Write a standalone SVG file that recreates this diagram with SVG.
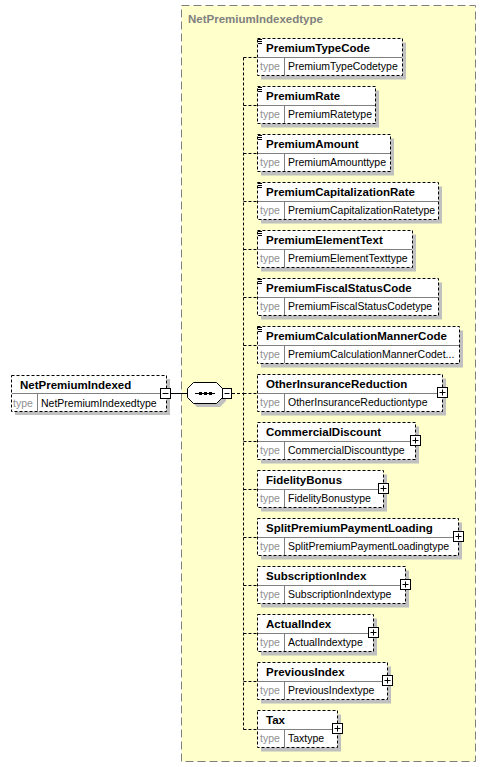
<svg xmlns="http://www.w3.org/2000/svg" width="487" height="767" viewBox="0 0 487 767">
<style>
.bg{fill:#ffffff}
.cmplx{fill:#ffffcc;stroke:#808080;stroke-width:1;stroke-dasharray:8,4}
.ctitle{font-family:"Liberation Sans",Arial,sans-serif;font-size:11.5px;font-weight:bold;fill:#808080}
.shadow{fill:#c0c0c0}
.box{fill:#ffffff;stroke:#000000;stroke-width:1;stroke-dasharray:3,2}
.sep{stroke:#808080;stroke-width:1}
.name{font-family:"Liberation Sans",Arial,sans-serif;font-size:11.5px;font-weight:bold;fill:#000000}
.tlab{font-family:"Liberation Sans",Arial,sans-serif;font-size:10.5px;fill:#909090}
.tval{font-family:"Liberation Sans",Arial,sans-serif;font-size:10.5px;fill:#000000}
.conn{fill:none;stroke:#000000;stroke-width:1;stroke-dasharray:3,2}
.solid{fill:none;stroke:#000000;stroke-width:1}
.btn{fill:#ffffff;stroke:#000000;stroke-width:1}
.icon{stroke:#000000;stroke-width:1}
</style>
<rect class="bg" x="0" y="0" width="487" height="767"/>
<g id="complexType">
<rect class="cmplx" x="181.5" y="5.5" width="294" height="756"/>
<text class="ctitle" x="188" y="23">NetPremiumIndexedtype</text>
</g>
<g id="connectors">
<line class="solid" x1="170" y1="393.5" x2="188" y2="393.5"/>
<line class="conn" x1="232" y1="393.5" x2="243.5" y2="393.5"/>
<line class="conn" x1="243.5" y1="57.5" x2="243.5" y2="729.5"/>
<line class="conn" x1="243.5" y1="57.5" x2="257" y2="57.5"/>
<line class="conn" x1="243.5" y1="105.5" x2="257" y2="105.5"/>
<line class="conn" x1="243.5" y1="153.5" x2="257" y2="153.5"/>
<line class="conn" x1="243.5" y1="201.5" x2="257" y2="201.5"/>
<line class="conn" x1="243.5" y1="249.5" x2="257" y2="249.5"/>
<line class="conn" x1="243.5" y1="297.5" x2="257" y2="297.5"/>
<line class="conn" x1="243.5" y1="345.5" x2="257" y2="345.5"/>
<line class="conn" x1="243.5" y1="393.5" x2="257" y2="393.5"/>
<line class="conn" x1="243.5" y1="441.5" x2="257" y2="441.5"/>
<line class="conn" x1="243.5" y1="489.5" x2="257" y2="489.5"/>
<line class="conn" x1="243.5" y1="537.5" x2="257" y2="537.5"/>
<line class="conn" x1="243.5" y1="585.5" x2="257" y2="585.5"/>
<line class="conn" x1="243.5" y1="633.5" x2="257" y2="633.5"/>
<line class="conn" x1="243.5" y1="681.5" x2="257" y2="681.5"/>
<line class="conn" x1="243.5" y1="729.5" x2="257" y2="729.5"/>
</g>
<g id="root">
<rect class="shadow" x="15" y="379" width="155" height="36"/>
<rect class="box" x="11.5" y="375.5" width="155" height="36"/>
<line class="sep" x1="12" y1="393.5" x2="166" y2="393.5"/>
<line class="sep" x1="37.5" y1="394" x2="37.5" y2="411"/>
<text class="name" x="20" y="389">NetPremiumIndexed</text>
<text class="tlab" x="13" y="406.5">type</text>
<text class="tval" x="41" y="406.5">NetPremiumIndexedtype</text>
<rect class="btn" x="160.5" y="388.5" width="10" height="10"/>
<line class="icon" x1="162.5" y1="393.5" x2="168.5" y2="393.5"/>
</g>
<g id="sequence">
<polygon class="shadow" points="197,386 220,386 226,392 226,401 220,407 197,407 191,401 191,392"/>
<polygon class="btn" points="193.5,382.5 216.5,382.5 222.5,388.5 222.5,397.5 216.5,403.5 193.5,403.5 187.5,397.5 187.5,388.5"/>
<line class="solid" x1="195" y1="393.5" x2="215" y2="393.5"/>
<rect x="199" y="392" width="3" height="3" fill="#000"/>
<rect x="204" y="392" width="3" height="3" fill="#000"/>
<rect x="209" y="392" width="3" height="3" fill="#000"/>
<rect class="btn" x="222.5" y="388.5" width="9" height="10"/>
<line class="icon" x1="224.5" y1="393.5" x2="229.5" y2="393.5"/>
</g>
<g id="PremiumTypeCode" transform="translate(0,0)">
<rect class="shadow" x="261" y="42.5" width="145" height="37"/>
<rect class="box" x="257.5" y="38.5" width="145" height="37"/>
<line class="sep" x1="258" y1="57.5" x2="402" y2="57.5"/>
<line class="sep" x1="284.5" y1="58" x2="284.5" y2="75"/>
<path class="icon" d="M258,39.5h4M258,41.5h4M258,43.5h4"/>
<text class="name" x="266" y="52">PremiumTypeCode</text>
<text class="tlab" x="260" y="70">type</text>
<text class="tval" x="288" y="70">PremiumTypeCodetype</text>
</g>
<g id="PremiumRate" transform="translate(0,48)">
<rect class="shadow" x="261" y="42.5" width="118" height="37"/>
<rect class="box" x="257.5" y="38.5" width="118" height="37"/>
<line class="sep" x1="258" y1="57.5" x2="375" y2="57.5"/>
<line class="sep" x1="284.5" y1="58" x2="284.5" y2="75"/>
<path class="icon" d="M258,39.5h4M258,41.5h4M258,43.5h4"/>
<text class="name" x="266" y="52">PremiumRate</text>
<text class="tlab" x="260" y="70">type</text>
<text class="tval" x="288" y="70">PremiumRatetype</text>
</g>
<g id="PremiumAmount" transform="translate(0,96)">
<rect class="shadow" x="261" y="42.5" width="133" height="37"/>
<rect class="box" x="257.5" y="38.5" width="133" height="37"/>
<line class="sep" x1="258" y1="57.5" x2="390" y2="57.5"/>
<line class="sep" x1="284.5" y1="58" x2="284.5" y2="75"/>
<path class="icon" d="M258,39.5h4M258,41.5h4M258,43.5h4"/>
<text class="name" x="266" y="52">PremiumAmount</text>
<text class="tlab" x="260" y="70">type</text>
<text class="tval" x="288" y="70">PremiumAmounttype</text>
</g>
<g id="PremiumCapitalizationRate" transform="translate(0,144)">
<rect class="shadow" x="261" y="42.5" width="181" height="37"/>
<rect class="box" x="257.5" y="38.5" width="181" height="37"/>
<line class="sep" x1="258" y1="57.5" x2="438" y2="57.5"/>
<line class="sep" x1="284.5" y1="58" x2="284.5" y2="75"/>
<path class="icon" d="M258,39.5h4M258,41.5h4M258,43.5h4"/>
<text class="name" x="266" y="52">PremiumCapitalizationRate</text>
<text class="tlab" x="260" y="70">type</text>
<text class="tval" x="288" y="70">PremiumCapitalizationRatetype</text>
</g>
<g id="PremiumElementText" transform="translate(0,192)">
<rect class="shadow" x="261" y="42.5" width="155" height="37"/>
<rect class="box" x="257.5" y="38.5" width="155" height="37"/>
<line class="sep" x1="258" y1="57.5" x2="412" y2="57.5"/>
<line class="sep" x1="284.5" y1="58" x2="284.5" y2="75"/>
<path class="icon" d="M258,39.5h4M258,41.5h4M258,43.5h4"/>
<text class="name" x="266" y="52">PremiumElementText</text>
<text class="tlab" x="260" y="70">type</text>
<text class="tval" x="288" y="70">PremiumElementTexttype</text>
</g>
<g id="PremiumFiscalStatusCode" transform="translate(0,240)">
<rect class="shadow" x="261" y="42.5" width="181" height="37"/>
<rect class="box" x="257.5" y="38.5" width="181" height="37"/>
<line class="sep" x1="258" y1="57.5" x2="438" y2="57.5"/>
<line class="sep" x1="284.5" y1="58" x2="284.5" y2="75"/>
<path class="icon" d="M258,39.5h4M258,41.5h4M258,43.5h4"/>
<text class="name" x="266" y="52">PremiumFiscalStatusCode</text>
<text class="tlab" x="260" y="70">type</text>
<text class="tval" x="288" y="70">PremiumFiscalStatusCodetype</text>
</g>
<g id="PremiumCalculationMannerCode" transform="translate(0,288)">
<rect class="shadow" x="261" y="42.5" width="202" height="37"/>
<rect class="box" x="257.5" y="38.5" width="202" height="37"/>
<line class="sep" x1="258" y1="57.5" x2="459" y2="57.5"/>
<line class="sep" x1="284.5" y1="58" x2="284.5" y2="75"/>
<path class="icon" d="M258,39.5h4M258,41.5h4M258,43.5h4"/>
<text class="name" x="266" y="52">PremiumCalculationMannerCode</text>
<text class="tlab" x="260" y="70">type</text>
<text class="tval" x="288" y="70">PremiumCalculationMannerCodet...</text>
</g>
<g id="OtherInsuranceReduction" transform="translate(0,336)">
<rect class="shadow" x="261" y="42.5" width="185" height="37"/>
<rect class="box" x="257.5" y="38.5" width="185" height="37"/>
<line class="sep" x1="258" y1="57.5" x2="442" y2="57.5"/>
<line class="sep" x1="284.5" y1="58" x2="284.5" y2="75"/>
<text class="name" x="266" y="52">OtherInsuranceReduction</text>
<text class="tlab" x="260" y="70">type</text>
<text class="tval" x="288" y="70">OtherInsuranceReductiontype</text>
<rect class="btn" x="437.5" y="51.5" width="10" height="10"/>
<path class="icon" d="M439.5,56.5h6M442.5,53.5v6"/>
</g>
<g id="CommercialDiscount" transform="translate(0,384)">
<rect class="shadow" x="261" y="42.5" width="158" height="37"/>
<rect class="box" x="257.5" y="38.5" width="158" height="37"/>
<line class="sep" x1="258" y1="57.5" x2="415" y2="57.5"/>
<line class="sep" x1="284.5" y1="58" x2="284.5" y2="75"/>
<text class="name" x="266" y="52">CommercialDiscount</text>
<text class="tlab" x="260" y="70">type</text>
<text class="tval" x="288" y="70">CommercialDiscounttype</text>
<rect class="btn" x="410.5" y="51.5" width="10" height="10"/>
<path class="icon" d="M412.5,56.5h6M415.5,53.5v6"/>
</g>
<g id="FidelityBonus" transform="translate(0,432)">
<rect class="shadow" x="261" y="42.5" width="126" height="37"/>
<rect class="box" x="257.5" y="38.5" width="126" height="37"/>
<line class="sep" x1="258" y1="57.5" x2="383" y2="57.5"/>
<line class="sep" x1="284.5" y1="58" x2="284.5" y2="75"/>
<text class="name" x="266" y="52">FidelityBonus</text>
<text class="tlab" x="260" y="70">type</text>
<text class="tval" x="288" y="70">FidelityBonustype</text>
<rect class="btn" x="378.5" y="51.5" width="10" height="10"/>
<path class="icon" d="M380.5,56.5h6M383.5,53.5v6"/>
</g>
<g id="SplitPremiumPaymentLoading" transform="translate(0,480)">
<rect class="shadow" x="261" y="42.5" width="201" height="37"/>
<rect class="box" x="257.5" y="38.5" width="201" height="37"/>
<line class="sep" x1="258" y1="57.5" x2="458" y2="57.5"/>
<line class="sep" x1="284.5" y1="58" x2="284.5" y2="75"/>
<text class="name" x="266" y="52">SplitPremiumPaymentLoading</text>
<text class="tlab" x="260" y="70">type</text>
<text class="tval" x="288" y="70">SplitPremiumPaymentLoadingtype</text>
<rect class="btn" x="453.5" y="51.5" width="10" height="10"/>
<path class="icon" d="M455.5,56.5h6M458.5,53.5v6"/>
</g>
<g id="SubscriptionIndex" transform="translate(0,528)">
<rect class="shadow" x="261" y="42.5" width="148" height="37"/>
<rect class="box" x="257.5" y="38.5" width="148" height="37"/>
<line class="sep" x1="258" y1="57.5" x2="405" y2="57.5"/>
<line class="sep" x1="284.5" y1="58" x2="284.5" y2="75"/>
<text class="name" x="266" y="52">SubscriptionIndex</text>
<text class="tlab" x="260" y="70">type</text>
<text class="tval" x="288" y="70">SubscriptionIndextype</text>
<rect class="btn" x="400.5" y="51.5" width="10" height="10"/>
<path class="icon" d="M402.5,56.5h6M405.5,53.5v6"/>
</g>
<g id="ActualIndex" transform="translate(0,576)">
<rect class="shadow" x="261" y="42.5" width="116" height="37"/>
<rect class="box" x="257.5" y="38.5" width="116" height="37"/>
<line class="sep" x1="258" y1="57.5" x2="373" y2="57.5"/>
<line class="sep" x1="284.5" y1="58" x2="284.5" y2="75"/>
<text class="name" x="266" y="52">ActualIndex</text>
<text class="tlab" x="260" y="70">type</text>
<text class="tval" x="288" y="70">ActualIndextype</text>
<rect class="btn" x="368.5" y="51.5" width="10" height="10"/>
<path class="icon" d="M370.5,56.5h6M373.5,53.5v6"/>
</g>
<g id="PreviousIndex" transform="translate(0,624)">
<rect class="shadow" x="261" y="42.5" width="130" height="37"/>
<rect class="box" x="257.5" y="38.5" width="130" height="37"/>
<line class="sep" x1="258" y1="57.5" x2="387" y2="57.5"/>
<line class="sep" x1="284.5" y1="58" x2="284.5" y2="75"/>
<text class="name" x="266" y="52">PreviousIndex</text>
<text class="tlab" x="260" y="70">type</text>
<text class="tval" x="288" y="70">PreviousIndextype</text>
<rect class="btn" x="382.5" y="51.5" width="10" height="10"/>
<path class="icon" d="M384.5,56.5h6M387.5,53.5v6"/>
</g>
<g id="Tax" transform="translate(0,672)">
<rect class="shadow" x="261" y="42.5" width="80" height="37"/>
<rect class="box" x="257.5" y="38.5" width="80" height="37"/>
<line class="sep" x1="258" y1="57.5" x2="337" y2="57.5"/>
<line class="sep" x1="284.5" y1="58" x2="284.5" y2="75"/>
<text class="name" x="266" y="52">Tax</text>
<text class="tlab" x="260" y="70">type</text>
<text class="tval" x="288" y="70">Taxtype</text>
<rect class="btn" x="332.5" y="51.5" width="10" height="10"/>
<path class="icon" d="M334.5,56.5h6M337.5,53.5v6"/>
</g>
</svg>
